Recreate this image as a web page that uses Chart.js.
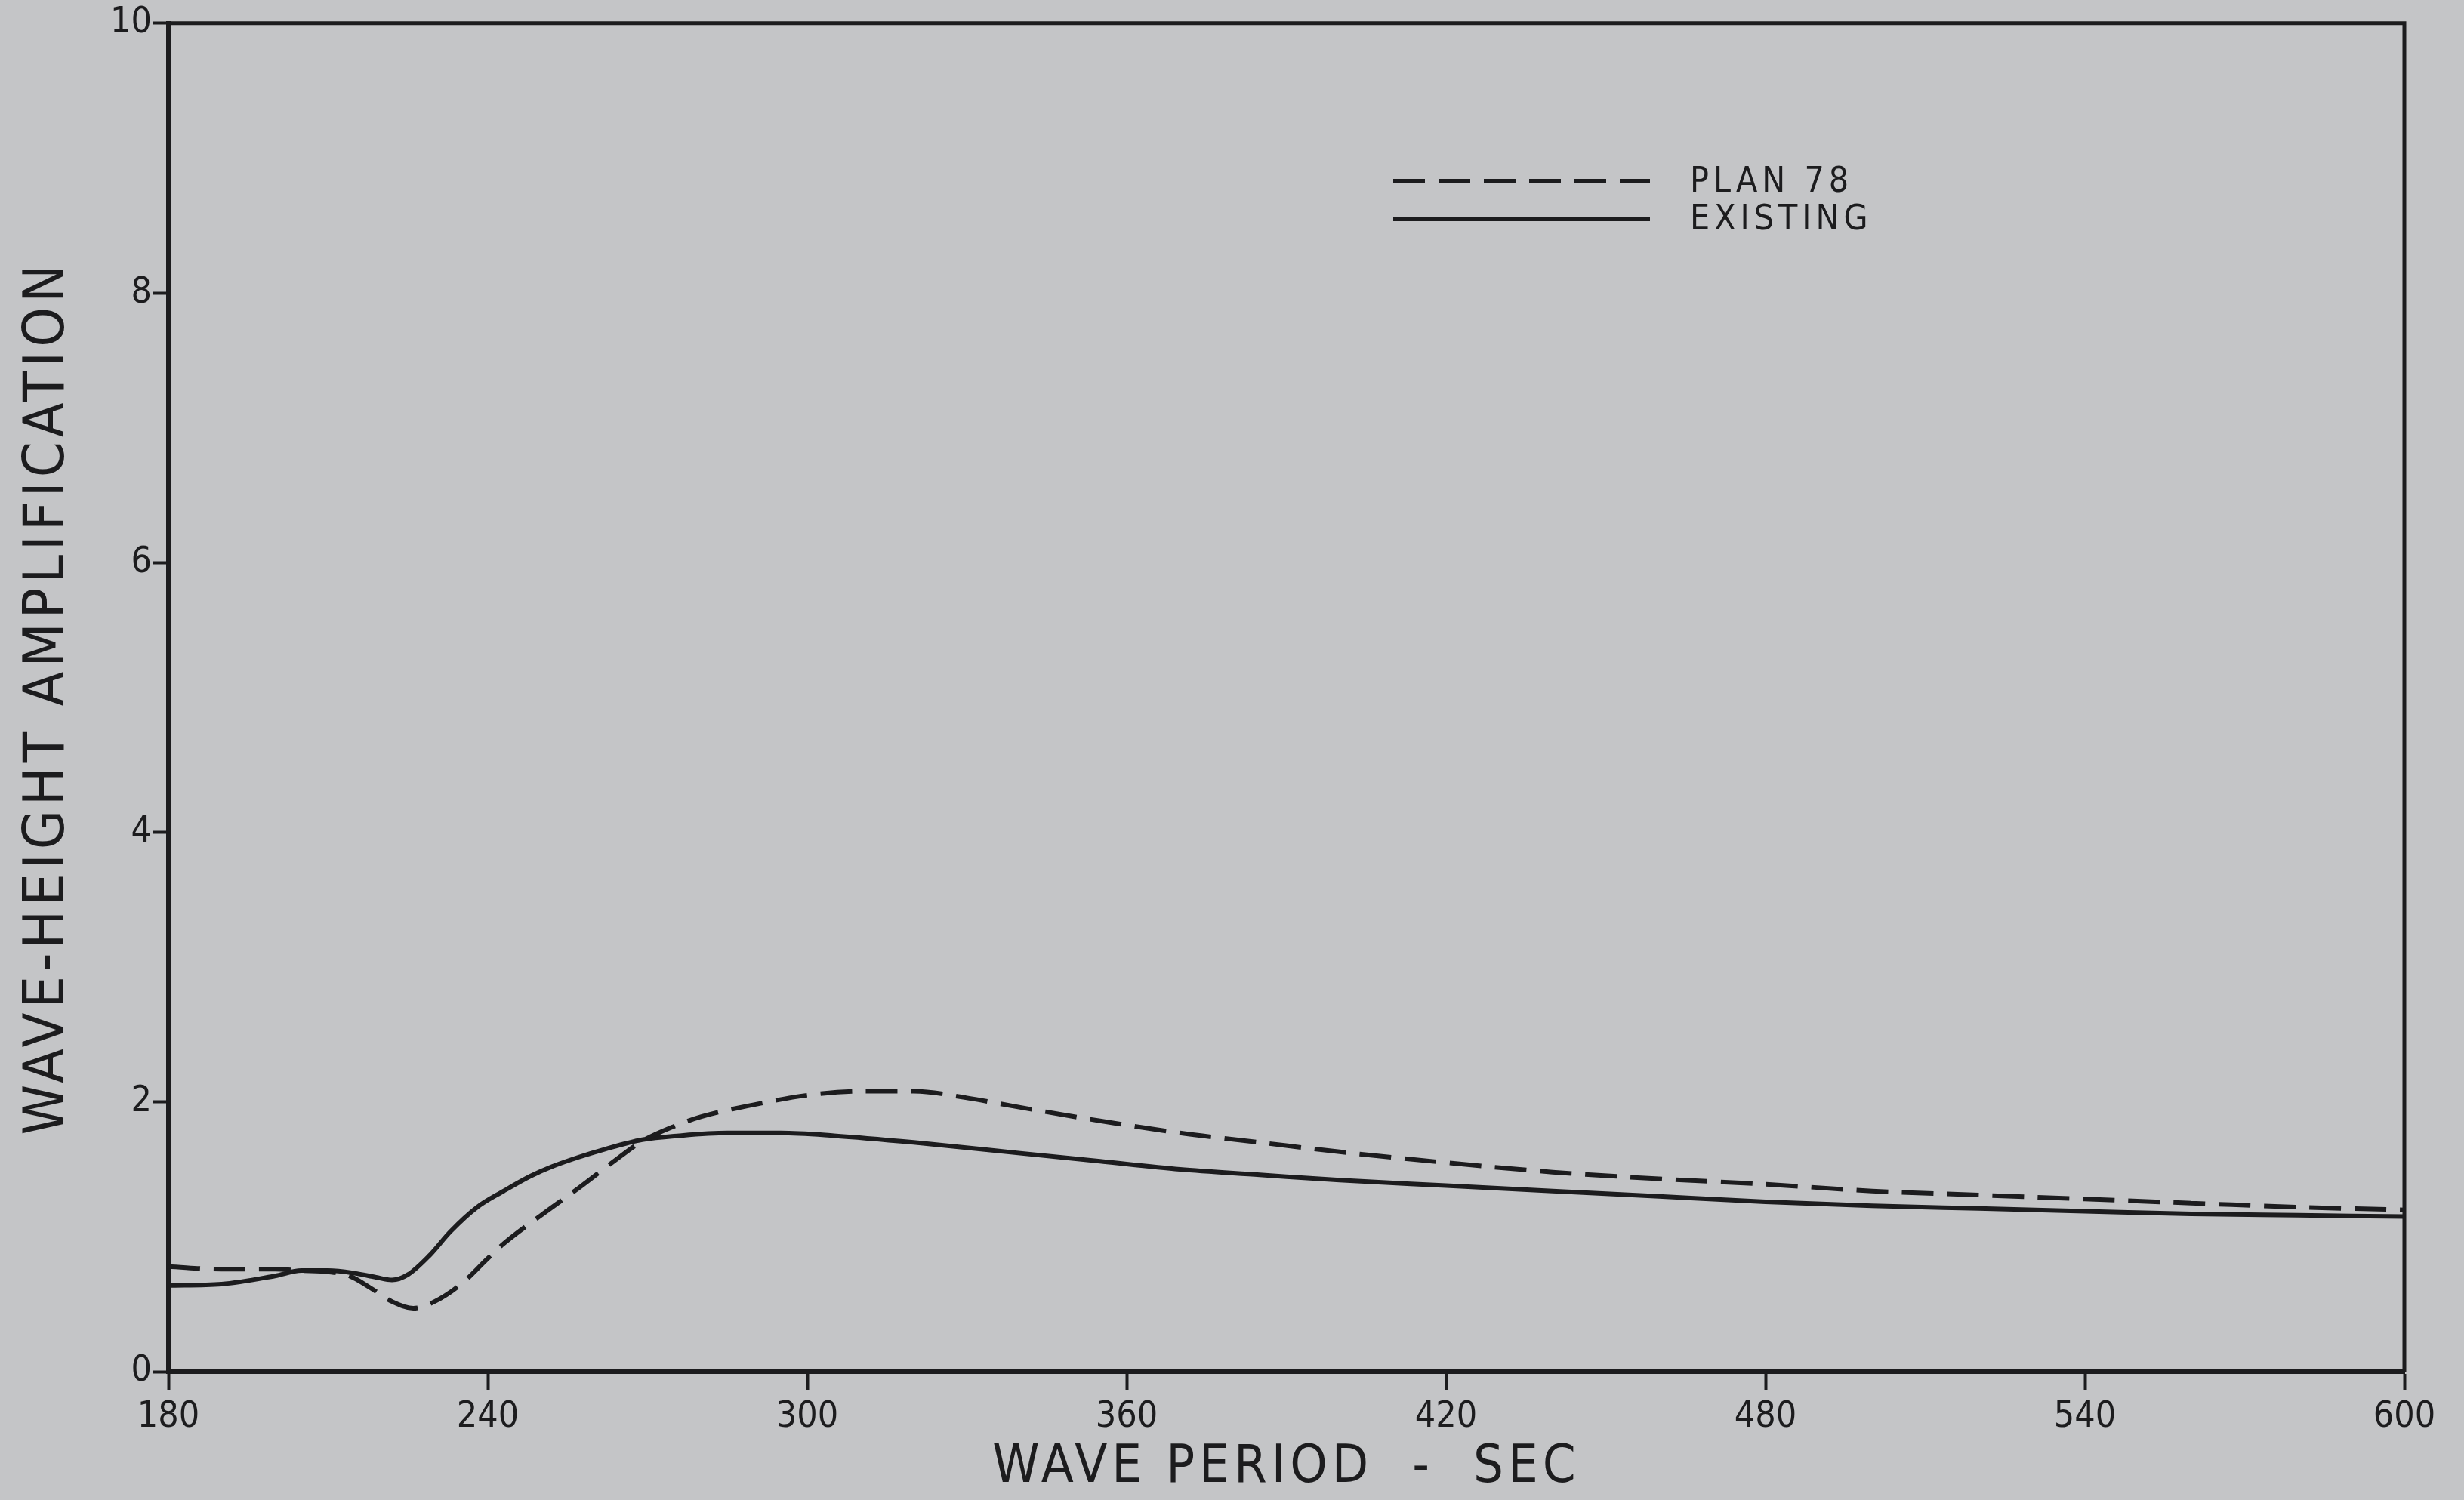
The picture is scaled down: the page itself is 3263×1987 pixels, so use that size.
<!DOCTYPE html>
<html>
<head>
<meta charset="utf-8">
<script src="https://cdn.jsdelivr.net/npm/chart.js@4.4.1/dist/chart.umd.min.js"></script>
<style>
  html, body { margin: 0; padding: 0; background: #c4c5c7; }
  #wrap { width: 3263px; height: 1987px; position: relative; }
  canvas { display: block; }
</style>
</head>
<body>
<div id="wrap"><canvas id="c" width="3263" height="1987"></canvas></div>
<script>
// ---- data ----
const planPeriods = [180,190,200,205,210,214,218,222,226,230,235,240,243,250,257,264,269,275,280,290,300,310,320,330,340,355,370,385,400,420,440,460,480,500,520,540,560,580,600];
const plan78      = [0.78,0.76,0.76,0.75,0.74,0.71,0.62,0.52,0.47,0.52,0.65,0.84,0.95,1.16,1.36,1.57,1.71,1.82,1.89,1.98,2.05,2.08,2.08,2.03,1.96,1.86,1.77,1.70,1.63,1.55,1.48,1.43,1.39,1.34,1.31,1.28,1.25,1.22,1.20];
const existingPeriods = [180,190,200,205,210,215,219,222,225,229,233,238,243,248,252,257,262,269,276,285,295,305,320,340,355,370,385,400,420,440,460,480,500,520,540,560,580,600];
const existing        = [0.64,0.65,0.71,0.75,0.75,0.73,0.70,0.68,0.72,0.86,1.04,1.22,1.34,1.45,1.52,1.59,1.65,1.72,1.75,1.77,1.77,1.75,1.70,1.62,1.56,1.50,1.46,1.42,1.38,1.34,1.30,1.26,1.23,1.21,1.19,1.17,1.16,1.15];
const seriesLabels = ['PLAN 78', 'EXISTING'];
const xTicks = [180,240,300,360,420,480,540,600];
const yTicks = [0,2,4,6,8,10];
const xTitle = 'WAVE PERIOD  -  SEC';
const yTitle = 'WAVE-HEIGHT AMPLIFICATION';

const INK = '#1c1c1e';
const FONT = '"Liberation Sans Narrow", "DejaVu Sans Condensed", "Liberation Sans", sans-serif';

const pad = { left: 0, right: 79, top: 29, bottom: 0 };
const plotLeft = 223, plotBottom = 1817, H = 1987;

// wider, plotter-like spacing for the axis titles only
const spacingPlugin = {
  id: 'spacing',
  beforeDraw(chart) {
    Object.values(chart.scales).forEach(s => {
      if (s._spaced) return;
      const orig = s.drawTitle;
      s.drawTitle = function () {
        const ctx = this.ctx;
        ctx.save();
        ctx.letterSpacing = '6px';
        orig.apply(this, arguments);
        ctx.restore();
      };
      s._spaced = true;
    });
  }
};

const framePlugin = {
  id: 'frame',
  afterDatasetsDraw(chart) {
    const { ctx, chartArea: a } = chart;
    ctx.save();
    ctx.strokeStyle = INK;
    ctx.lineWidth = 5;
    ctx.beginPath();
    ctx.moveTo(a.left, a.top);
    ctx.lineTo(a.right, a.top);
    ctx.lineTo(a.right, a.bottom);
    ctx.stroke();
    ctx.restore();
  }
};

const legendPlugin = {
  id: 'customLegend',
  afterDraw(chart) {
    const { ctx } = chart;
    const x0 = 1845, x1 = 2185, tx = 2238;
    const rows = [240, 290];
    ctx.save();
    ctx.letterSpacing = '6px';
    chart.data.datasets.forEach((ds, i) => {
      const y = rows[i];
      ctx.strokeStyle = ds.borderColor;
      ctx.lineWidth = ds.borderWidth;
      ctx.setLineDash(ds.borderDash || []);
      ctx.beginPath();
      ctx.moveTo(x0, y);
      ctx.lineTo(x1, y);
      ctx.stroke();
      ctx.setLineDash([]);
      ctx.fillStyle = INK;
      ctx.font = '46px ' + FONT;
      ctx.textBaseline = 'middle';
      ctx.textAlign = 'left';
      ctx.fillText(ds.label, tx, y + 2);
    });
    ctx.restore();
  }
};

new Chart(document.getElementById('c'), {
  type: 'line',
  data: {
    datasets: [
      {
        label: seriesLabels[0],
        data: planPeriods.map((p, i) => ({ x: p, y: plan78[i] })),
        borderColor: INK,
        borderWidth: 6,
        borderDash: [42, 18],
        pointRadius: 0,
        cubicInterpolationMode: 'monotone',
        fill: false
      },
      {
        label: seriesLabels[1],
        data: existingPeriods.map((p, i) => ({ x: p, y: existing[i] })),
        borderColor: INK,
        borderWidth: 6,
        pointRadius: 0,
        cubicInterpolationMode: 'monotone',
        fill: false
      }
    ]
  },
  options: {
    responsive: false,
    animation: false,
    devicePixelRatio: 1,
    layout: { padding: pad },
    plugins: {
      legend: { display: false },
      tooltip: { enabled: false }
    },
    scales: {
      x: {
        type: 'linear',
        min: 180, max: 600,
        afterBuildTicks(s) { s.ticks = xTicks.map(v => ({ value: v })); },
        afterFit(s) { s.height = H - plotBottom - pad.bottom; },
        grid: { drawOnChartArea: false, drawTicks: true, tickLength: 24, tickWidth: 4, color: INK },
        border: { display: true, color: INK, width: 6 },
        ticks: { color: INK, font: { family: FONT, size: 48 }, padding: 8, maxRotation: 0, autoSkip: false },
        title: { display: true, text: xTitle, color: INK, font: { family: FONT, size: 70 }, padding: { top: 0, bottom: 0 } }
      },
      y: {
        type: 'linear',
        min: 0, max: 10,
        afterBuildTicks(s) { s.ticks = yTicks.map(v => ({ value: v })); },
        afterFit(s) { s.width = plotLeft - pad.left; },
        grid: { drawOnChartArea: false, drawTicks: true, tickLength: 20, tickWidth: 4, color: INK },
        border: { display: true, color: INK, width: 6 },
        ticks: { color: INK, font: { family: FONT, size: 48 }, padding: 2, autoSkip: false },
        title: { display: true, text: yTitle, color: INK, font: { family: FONT, size: 75 }, padding: { top: 20, bottom: 0 } }
      }
    }
  },
  plugins: [spacingPlugin, framePlugin, legendPlugin]
});
</script>
</body>
</html>
